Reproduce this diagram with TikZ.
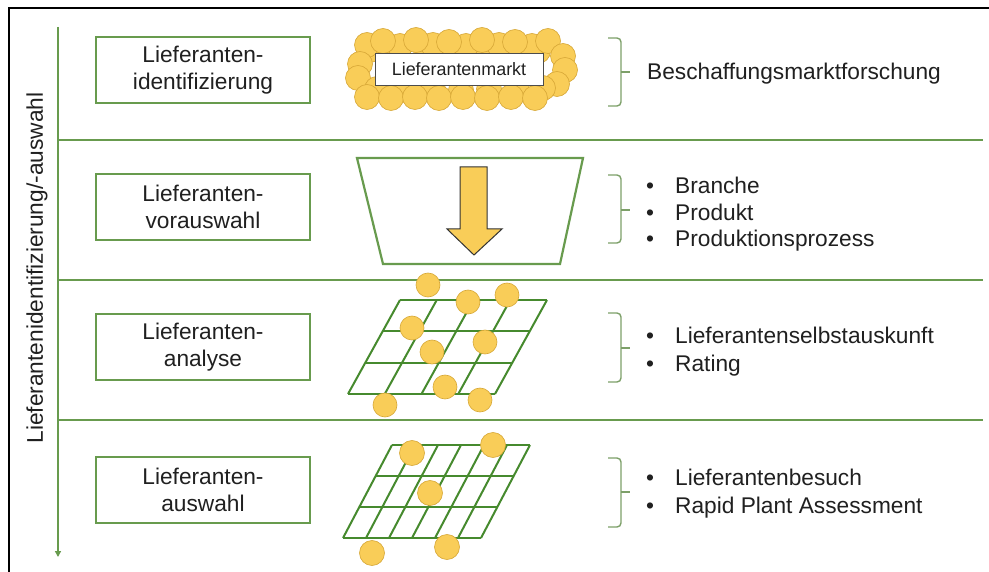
\documentclass[tikz,border=0pt]{standalone}
\usepackage{fontspec}
\setmainfont{Liberation Sans}
\usetikzlibrary{arrows.meta}

\definecolor{lineG}{RGB}{104,155,78}
\definecolor{gridG}{RGB}{70,138,46}
\definecolor{brkG}{RGB}{125,160,105}
\definecolor{ballY}{RGB}{249,205,88}
\definecolor{ballE}{RGB}{215,168,55}
\definecolor{txt}{RGB}{32,32,32}

\begin{document}
\begin{tikzpicture}[x=1pt,y=-1pt,
  every node/.style={text=txt},
  bigtext/.style={font=\fontsize{22.7}{27}\selectfont},
  stepbox/.style={draw=lineG, line width=1.5pt, minimum width=214pt, minimum height=66pt,
    inner sep=0pt, align=center, bigtext},
  sep/.style={draw=lineG, line width=2pt},
  gridline/.style={draw=gridG, line width=2pt},
  ball/.style={fill=ballY, draw=ballE, line width=0.6pt},
  brk/.style={draw=brkG, line width=1.4pt, rounded corners=4pt},
  item/.style={anchor=base west, bigtext, inner sep=0pt}
]
\useasboundingbox (0,0) rectangle (989,572);
\fill[white] (0,0) rectangle (989,572);

% outer frame (top and left edges)
\draw[black, line width=2pt] (9,572) -- (9,8) -- (989,8);

% time axis and row separators
\coordinate (axTop) at (58,27);
\coordinate (axEnd) at (58,557);
\draw[sep, -{Triangle[length=6pt,width=6pt]}] (axTop) -- (axEnd);
\foreach \yy in {140,280,420} { \draw[sep] (58,\yy) -- (983,\yy); }

\node[rotate=90, bigtext] (side) at (37,268) {Lieferantenidentifizierung/-auswahl};

% process steps
\node[stepbox] (s1) at (203,70)  {Lieferanten-\\identifizierung};
\node[stepbox] (s2) at (203,207) {Lieferanten-\\vorauswahl};
\node[stepbox] (s3) at (203,347) {Lieferanten-\\analyse};
\node[stepbox] (s4) at (203,490) {Lieferanten-\\auswahl};

% row 1: supplier market as a crowd of balls
\foreach \xx/\yy in {
  370/50,398/52,426/51,454/52,482/51,510/52,538/51,
  367/45,400/46,433/45,466/46,499/45,532/46,
  383/41,416/40,449/42,482/40,515/42,548/41,
  360/64,358/78,
  563/56,565/70,557/84,
  377/89,405/90,433/89,461/90,489/89,517/90,543/88,
  367/97,391/98,415/97,439/98,463/97,487/98,511/97,535/98}
  { \draw[ball] (\xx,\yy) circle[radius=12.5pt]; }
\node[draw=black!70, fill=white, line width=0.8pt, minimum width=168pt, minimum height=32pt,
  inner sep=0pt, font=\fontsize{17.9}{20}\selectfont] (mkt) at (459,69) {Lieferantenmarkt};

% row 2: funnel with downward arrow
\draw[draw=lineG, line width=2.2pt] (357,158) -- (583,158) -- (560,264) -- (383,264) -- cycle;
\draw[fill=ballY, draw=black!80, line width=1pt, line join=miter]
  (460,167) -- (487,167) -- (487,229) -- (502,229) -- (474,255) -- (447,229) -- (460,229) -- cycle;

% row 3: coarse grid with balls
\foreach \i in {0,1,2,3}
  { \draw[gridline] ({400-52*\i/3},{300+94*\i/3}) -- ({547-52*\i/3},{300+94*\i/3}); }
\foreach \j in {0,...,4}
  { \draw[gridline] ({400+36.75*\j},300) -- ({348+36.75*\j},394); }
\foreach \xx/\yy in {428/285,468/302,507/295,412/328,485/342,432/352,445/387,385/405,480/400}
  { \draw[ball] (\xx,\yy) circle[radius=12pt]; }

% row 4: fine grid with balls
\foreach \i in {0,1,2,3}
  { \draw[gridline] ({392-49*\i/3},{445+31*\i}) -- ({530-49*\i/3},{445+31*\i}); }
\foreach \j in {0,...,6}
  { \draw[gridline] ({392+23*\j},445) -- ({343+23*\j},538); }
\foreach \xx/\yy in {412/453,493/445,430/493,447/547,372/553}
  { \draw[ball] (\xx,\yy) circle[radius=12.5pt]; }

% brackets
\foreach \t/\m/\b in {38/72/106,175/210/243,313/348/382,458/492/527}
  { \draw[brk] (608,\t) -- (621,\t) -- (621,\b) -- (608,\b);
    \draw[draw=brkG, line width=1.4pt] (621,\m) -- (630,\m); }

% descriptions
\node[item] (d1) at (647,80) {Beschaffungsmarktforschung};
\node[item] (d2a) at (646,194) {\makebox[29pt][l]{•}Branche};
\node[item] (d2b) at (646,221) {\makebox[29pt][l]{•}Produkt};
\node[item] (d2c) at (646,247) {\makebox[29pt][l]{•}Produktionsprozess};
\node[item] (d3a) at (646,344) {\makebox[29pt][l]{•}Lieferantenselbstauskunft};
\node[item] (d3b) at (646,372) {\makebox[29pt][l]{•}Rating};
\node[item] (d4a) at (646,485) {\makebox[29pt][l]{•}Lieferantenbesuch};
\node[item] (d4b) at (646,513) {\makebox[29pt][l]{•}Rapid Plant Assessment};
\end{tikzpicture}
\end{document}
